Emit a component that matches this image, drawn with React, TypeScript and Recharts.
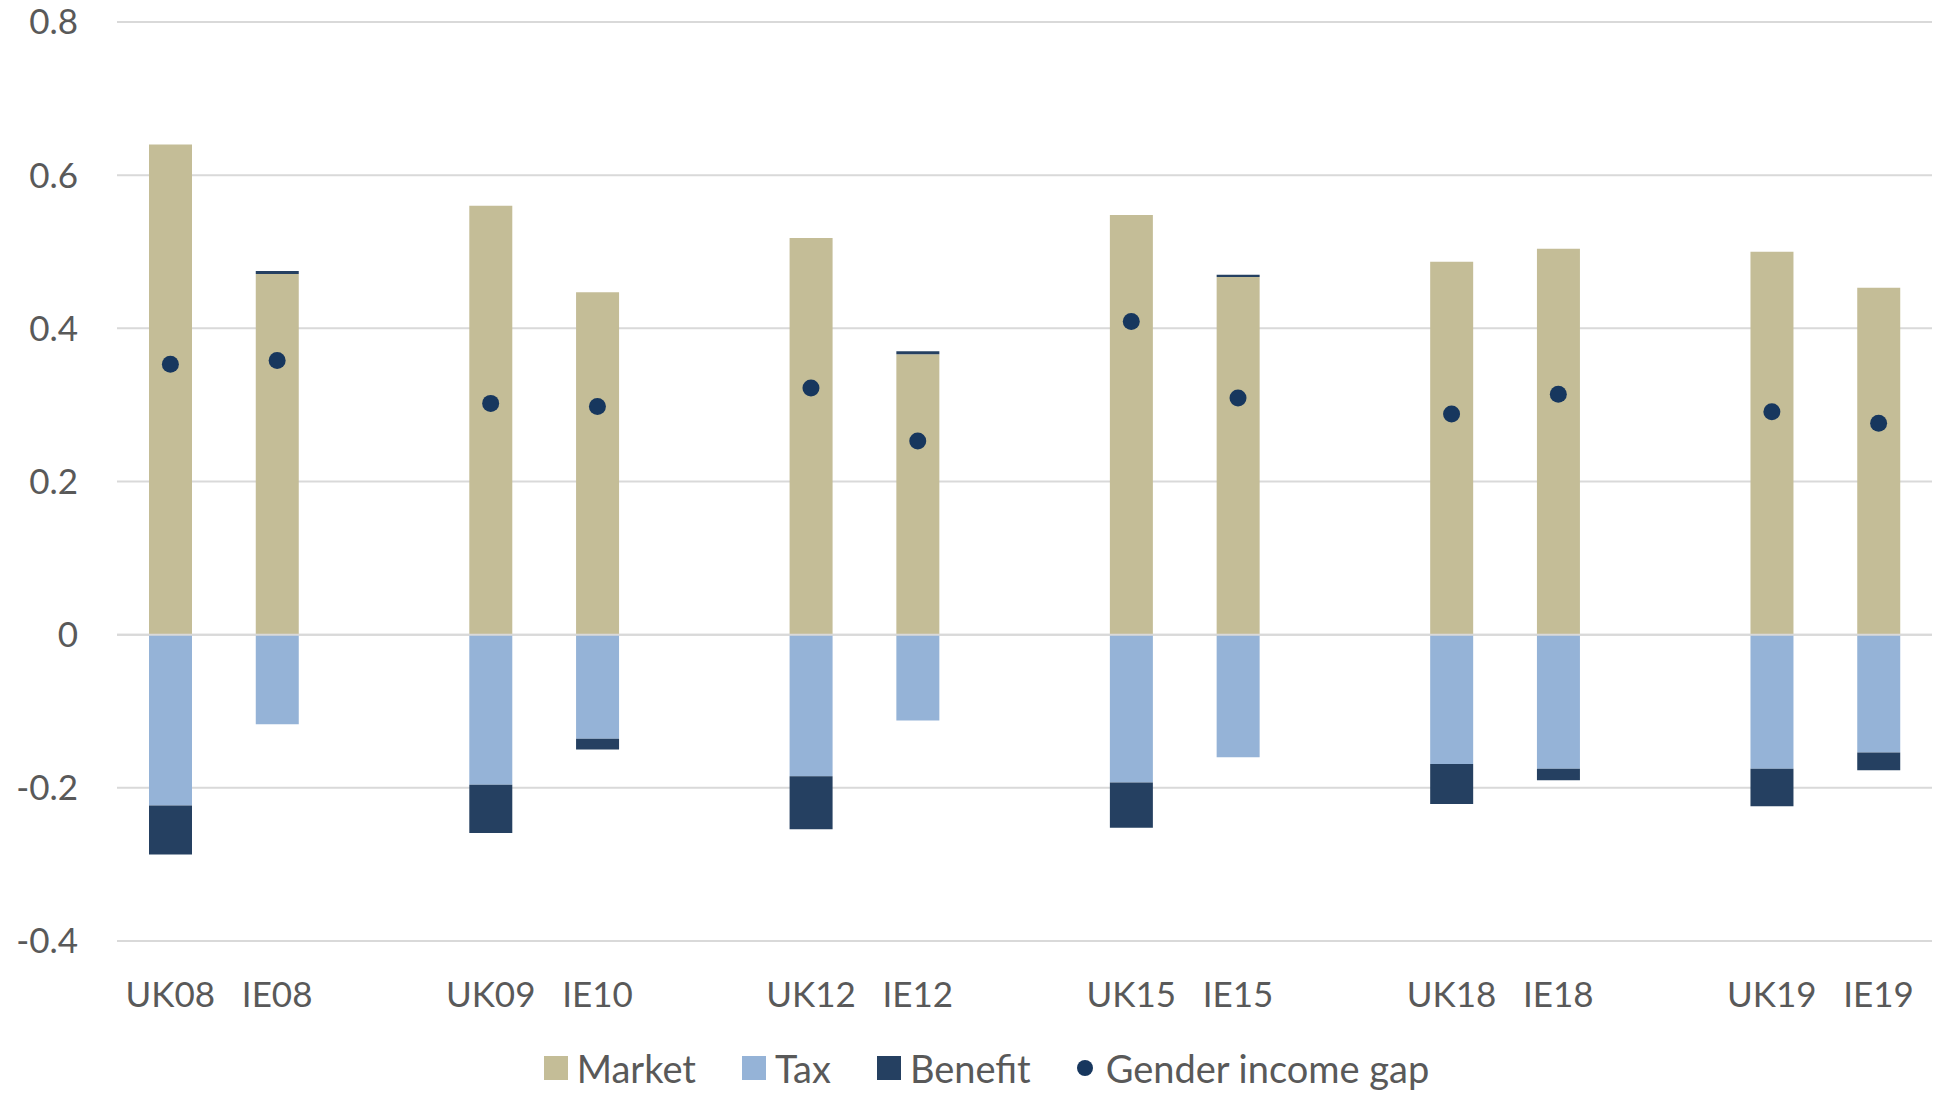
import React from 'react'
import {
  ComposedChart, Bar, Line, XAxis, YAxis, CartesianGrid, Legend, ReferenceLine,
} from 'recharts'

// Blank entries leave a gap between each UK/IE pair
const CATEGORIES = ['UK08', 'IE08', '', 'UK09', 'IE10', '', 'UK12', 'IE12', '', 'UK15', 'IE15', '', 'UK18', 'IE18', '', 'UK19', 'IE19']
const MARKET = [0.640, 0.471, null, 0.560, 0.447, null, 0.518, 0.366, null, 0.548, 0.467, null, 0.487, 0.504, null, 0.500, 0.453]
const TAX = [-0.223, -0.117, null, -0.196, -0.136, null, -0.185, -0.112, null, -0.193, -0.160, null, -0.169, -0.175, null, -0.175, -0.154]
const BENEFIT = [-0.064, 0.004, null, -0.063, -0.014, null, -0.069, 0.004, null, -0.059, 0.003, null, -0.052, -0.015, null, -0.049, -0.023]
const GAP = [0.353, 0.358, null, 0.302, 0.298, null, 0.322, 0.253, null, 0.409, 0.309, null, 0.288, 0.314, null, 0.291, 0.276]
const Y_TICKS = [-0.4, -0.2, 0, 0.2, 0.4, 0.6, 0.8]

const SERIES_ORDER = ['market', 'tax', 'benefit', 'gap']
const COLORS: Record<string, string> = {
  market: '#C4BD97',
  tax: '#95B3D7',
  benefit: '#254061',
  gap: '#17375E',
}
const TEXT = '#595959'
const FONT = 'Lato, "Open Sans", sans-serif'

const data = CATEGORIES.map((name, i) => ({
  name,
  market: MARKET[i],
  tax: TAX[i],
  benefit: BENEFIT[i],
  gap: GAP[i],
}))

function CategoryTick({ x, y, payload }: any) {
  return (
    <text x={x} y={y + 52} textAnchor="middle" dominantBaseline="central"
      fill={TEXT} fontSize={35} fontFamily={FONT}>
      {payload.value}
    </text>
  )
}

function LegendContent({ payload }: any) {
  // keep series order rather than the alphabetical default
  const items = [...(payload || [])].sort(
    (a: any, b: any) => SERIES_ORDER.indexOf(a.dataKey) - SERIES_ORDER.indexOf(b.dataKey),
  )
  return (
    <div style={{ display: 'flex', justifyContent: 'center', alignItems: 'center', height: 50, fontFamily: FONT, fontSize: 38, color: TEXT }}>
      {items.map((entry: any) => (
        <div key={entry.dataKey} style={{ display: 'flex', alignItems: 'center', margin: '0 23px' }}>
          {entry.type === 'circle'
            ? <span style={{ width: 16, height: 16, borderRadius: '50%', background: COLORS[entry.dataKey], marginRight: 13 }} />
            : <span style={{ width: 24, height: 24, background: COLORS[entry.dataKey], marginRight: 9 }} />}
          <span>{entry.value}</span>
        </div>
      ))}
    </div>
  )
}

export default function App() {
  return (
    <div style={{ width: 1937, height: 1093, background: '#fff', fontFamily: FONT }}>
      <style>{'body{margin:0}'}</style>
      <ComposedChart width={1937} height={1093} data={data} stackOffset="sign"
        margin={{ top: 22, right: 5, left: 0, bottom: 0 }}>
        <CartesianGrid vertical={false} stroke="#d9d9d9" strokeWidth={2} />
        <XAxis dataKey="name" axisLine={false} tickLine={false} tickSize={0} tickMargin={0}
          height={102} interval={0} tick={<CategoryTick />} />
        <YAxis domain={[-0.4, 0.8]} ticks={Y_TICKS} width={117} axisLine={false} tickLine={false}
          tickSize={0} tickMargin={39} tick={{ fill: TEXT, fontSize: 35, fontFamily: FONT }} />
        <Bar dataKey="market" name="Market" stackId="a" fill={COLORS.market} barSize={43}
          legendType="square" isAnimationActive={false} />
        <Bar dataKey="tax" name="Tax" stackId="a" fill={COLORS.tax} barSize={43}
          legendType="square" isAnimationActive={false} />
        <Bar dataKey="benefit" name="Benefit" stackId="a" fill={COLORS.benefit} barSize={43}
          legendType="square" isAnimationActive={false} />
        <ReferenceLine y={0} stroke="#d9d9d9" strokeWidth={2} />
        <Line dataKey="gap" name="Gender income gap" stroke="none" legendType="circle"
          dot={{ r: 8.5, fill: COLORS.gap, stroke: 'none' }} activeDot={false}
          isAnimationActive={false} />
        <Legend verticalAlign="bottom" content={<LegendContent />}
          wrapperStyle={{ left: 36, width: 1901, bottom: 0 }} />
      </ComposedChart>
    </div>
  )
}
